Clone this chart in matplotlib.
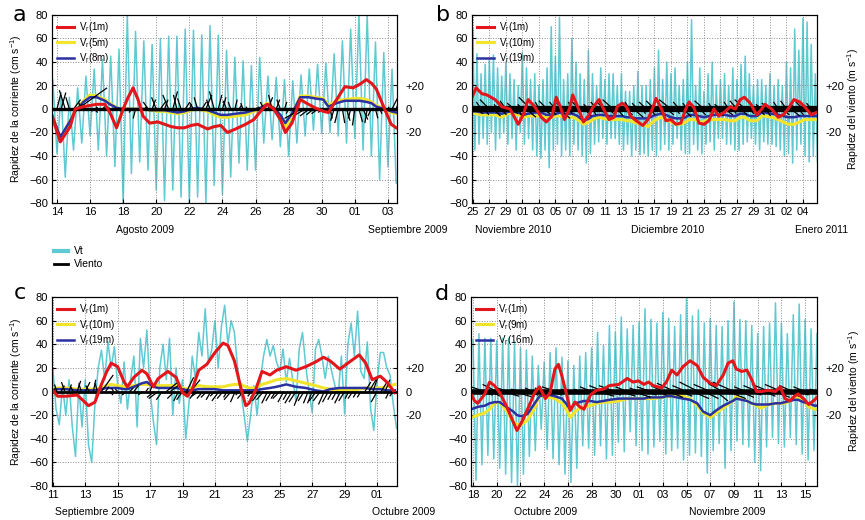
import matplotlib
matplotlib.use('Agg')
import matplotlib.pyplot as plt
import numpy as np
from datetime import datetime, timedelta
from matplotlib.collections import LineCollection
from matplotlib.lines import Line2D

plt.rcParams['font.family'] = ['Liberation Sans', 'DejaVu Sans']
plt.rcParams['mathtext.fontset'] = 'custom'
plt.rcParams['mathtext.rm'] = 'Liberation Sans'

CYAN = '#5fcad2'
RED = '#e3161b'
YEL = '#f1e52c'
BLU = '#2a31a0'

# ---------------- panel a : Agosto - Septiembre 2009 (day of August) ----------------
a_t = [13.7, 14.2, 14.8, 15.1, 15.6, 16.0, 16.4, 16.9, 17.2, 17.6,
       18.0, 18.3, 18.6, 18.9, 19.2, 19.6, 20.1, 20.5, 20.9, 21.3,
       21.7, 22.1, 22.5, 23.1, 23.5, 23.9, 24.3, 24.8, 25.4, 25.9,
       26.3, 26.7, 27.1, 27.5, 27.8, 28.2, 28.7, 29.2, 29.6, 30.1,
       30.4, 30.9, 31.4, 31.9, 32.3, 32.7, 33.0, 33.3, 33.8, 34.2, 34.5]
a_red = [-6, -28, -15, 0, 2, 3, 4, 4, -3, -16,
         0, 10, 18, 8, -6, -12, -11, -13, -15, -16,
         -16, -14, -13, -17, -15, -14, -20, -17, -13, -9,
         -2, 4, 0, -9, -20, -12, 8, 4, 1, -2,
         -3, 8, 19, 18, 21, 25, 22, 17, 0, -13, -16]
a_yel = [-5, -25, -10, -2, 7, 12, 11, 8, 5, 1,
         0, 0, 0, 0, 0, -1, -2, -2, -3, -4,
         -3, -1, 0, -2, -5, -7, -7, -6, -5, -2,
         1, 5, 1, -7, -16, -5, 11, 11, 10, 9,
         3, 7, 8, 9, 9, 8, 6, 3, 0, -3, -4]
a_blu = [-5, -24, -10, -2, 6, 10, 10, 7, 4, 1,
         0, 0, 0, 0, 0, -1, -1, -1, -2, -3,
         -2, 0, 1, -1, -3, -5, -5, -4, -3, -1,
         1, 4, 1, -5, -12, -4, 10, 10, 9, 8,
         2, 5, 7, 7, 7, 6, 5, 2, 0, -2, -3]
a_peak = [25, 14, 10, 18, 28, 34, 42, 45, 51, 80,
          66, 58, 55, 60, 62, 62, 68, 67, 63, 71,
          63, 50, 44, 41, 37, 44, 28, 27, 25, 24,
          29, 34, 38, 39, 47, 58, 68, 80, 80, 57, 48, 34]
a_trough = [-38, -58, -35, -29, -23, -35, -40, -49, -80, -55,
            -45, -52, -69, -78, -69, -75, -80, -75, -80, -65,
            -73, -58, -46, -52, -52, -29, -26, -32, -40, -29,
            -23, -18, -21, -20, -23, -29, -25, -35, -40, -60, -49, -63]
# wind components every 6 h from 13.75
a_wu = [-6, 3, 4, -5, -3, 6, 25, -3,
        -4, 2, 3, -2, 2, -1, -2, 2, 2, 1, 1, -2, -2, 3, 3,
        -4, 3, -4, 5, 3, -5, 4, -3, -3, 4, 2, -3,
        -3, 4, 5, -3, -4, 3, 3, -3, -2, 2, 2, -2, -1,
        1, 2, -1, -3,
        4, -3, 3, -3, 2, -2, 2, -4,
        -14, -10, -8, -6, -5, -3, 3,
        2, -3, -3, 2, 3, -2, -2, 3, 4, -2, -3, 2,
        2, 2, 1, 5, 4]
a_wv = [20, 12, 14, 16, 10, 8, 18, 6,
        4, -2, -3, 2, 2, 1, 1, -1, -2, 2, 1, -3, -8, -4, 2,
        6, 8, 10, 7, 8, 12, 15, 12, 9, 6, 4, 5,
        10, 6, 12, 8, 15, 12, 10, 7, 6, 8, 3, 5, 2,
        -1, 1, 2, 6,
        10, 12, 8, 8, 6, -4, -6, -5,
        -8, -6, -6, -5, -4, -3, -2,
        -8, -10, -12, -12, -10, -8, -14, -11, -9, -12, -6, -8,
        -4, -2, 2, 10, 12]

# ---------------- panel b : Nov 2010 - Ene 2011 (day counted from 31 Oct) ----------------
b_t = [24.9, 25.4, 26.1, 26.7, 27.7, 28.5, 29.5, 30.5, 31.1, 31.7,
       32.5, 33.3, 33.9, 34.6, 35.1, 35.6, 36.1, 36.7, 37.1, 37.7,
       38.4, 39.1, 39.5, 40.3, 40.7, 41.5, 42.1, 42.5, 43.1, 43.6,
       44.1, 44.8, 45.6, 46.2, 46.8, 47.2, 47.8, 48.4, 49.0, 49.6,
       50.2, 50.8, 51.2, 51.8, 52.4, 53.0, 53.6, 54.2, 54.8, 55.6,
       56.2, 56.8, 57.4, 57.9, 58.6, 59.4, 60.0, 60.4, 61.2, 62.0,
       62.6, 63.2, 63.9, 64.6, 65.2, 66.0, 66.6]
b_red = [10, 18, 13, 12, 8, 2, 0, -13, -5, 8,
         2, -7, -11, -6, 10, 2, -9, 0, 12, 2,
         -11, -5, 1, 8, 2, -9, -7, 2, 5, 2,
         -6, -10, -14, -9, 1, 9, 1, -10, -9, -13,
         -12, 0, 6, 1, -12, -13, -10, 0, -6, -2,
         2, 0, 8, 10, 5, -5, 0, 4, 0, -7,
         -5, 0, 8, 6, 2, -5, -3]
b_yel = [-3, -4, -5, -5, -5, -7, -3, -5, -7, -6,
         -6, -6, -7, -7, -6, -6, -7, -7, -7, -9,
         -13, -11, -9, -7, -8, -9, -9, -9, -9, -10,
         -10, -12, -13, -15, -11, -9, -7, -9, -11, -13,
         -13, -11, -9, -9, -11, -11, -9, -9, -9, -9,
         -10, -10, -7, -7, -10, -10, -6, -6, -7, -9,
         -11, -13, -13, -11, -9, -9, -9]
b_blu = [-2, -2, -3, -3, -3, -4, -2, -3, -5, -4,
         -3, -3, -5, -5, -4, -3, -4, -4, -4, -6,
         -10, -8, -6, -5, -5, -6, -6, -6, -6, -7,
         -7, -8, -8, -8, -6, -5, -4, -5, -7, -8,
         -8, -7, -5, -5, -6, -7, -6, -5, -5, -5,
         -6, -6, -4, -4, -6, -6, -3, -3, -4, -5,
         -6, -7, -7, -6, -6, -6, -6]
b_peak = [68, 47, 30, 38, 42, 46, 35, 28, 40, 30,
          25, 20, 48, 35, 25, 30, 20, 25, 35, 70,
          45, 78, 25, 30, 60, 40, 30, 25, 50, 30,
          20, 35, 25, 30, 30, 20, 30, 15, 15, 20,
          32, 20, 20, 25, 35, 50, 25, 40, 30, 35,
          20, 25, 40, 76, 20, 35, 15, 30, 40, 20,
          25, 30, 20, 35, 25, 38, 45, 30, 20, 25,
          25, 20, 30, 20, 25, 20, 40, 35, 68, 50,
          77, 74, 55, 30]
b_trough = [-35, -30, -25, -30, -20, -35, -25, -20, -30, -25,
            -35, -20, -30, -25, -35, -40, -42, -35, -50, -35,
            -30, -40, -35, -40, -30, -35, -40, -46, -38, -30,
            -28, -25, -30, -25, -25, -30, -35, -30, -40, -35,
            -39, -38, -40, -35, -40, -35, -30, -35, -30, -25,
            -35, -38, -38, -30, -35, -38, -30, -28, -35, -25,
            -25, -30, -30, -35, -35, -30, -28, -25, -30, -35,
            -28, -30, -30, -32, -35, -40, -38, -46, -35, -30,
            -40, -45, -40, -45]
b_wu = [-6, 5, -4, 3, -8, 6, -3, 4, -5, 7, -6, 3, -4, 8, -10, 5, -3, 6, -7, 4,
        -5, 9, -6, 4, -3, 5, -8, 6, -4, 3, -5, 7, -6, 4, -9, 5, -3, 6, -4, 8,
        -5, 3, -6, 4, -7, 5, -3, 6, -10, 4, -5, 7, -4, 3, -6, 5, -8, 4, -3, 6,
        -5, 7, -4, 3, -6, 5, -9, 4, -3, 6, -5, 4, -7, 3, -4, 6, -5, 8, -3, 4,
        -6, 5, -4, 10]
b_wv = [5, -4, 6, -5, 8, -6, 4, -5, 7, -4, 5, -6, 4, -7, 10, -5, 6, -4, 7, -5,
        6, -8, 5, -4, 6, -5, 7, -6, 4, -5, 6, -7, 5, -4, 8, -6, 4, -5, 6, -7,
        5, -4, 6, -5, 7, -6, 4, -5, 8, -4, 6, -7, 5, -4, 6, -5, 7, -4, 5, -6,
        4, -5, 6, -4, 7, -5, 8, -4, 6, -5, 4, -6, 5, -4, 6, -5, 7, -6, 4, -5,
        6, -4, 5, -6]

# ---------------- panel c : Septiembre - Octubre 2009 (day of September) ----------------
c_t = [11.0, 11.3, 11.8, 12.5, 12.9, 13.2, 13.6, 14.0, 14.3, 14.6,
       15.0, 15.4, 15.6, 16.0, 16.5, 16.8, 17.2, 17.5, 18.1, 18.6,
       19.0, 19.3, 19.6, 20.0, 20.5, 21.0, 21.5, 21.8, 22.2, 22.6,
       22.9, 23.1, 23.5, 23.9, 24.4, 24.8, 25.4, 26.0, 26.6, 27.2,
       27.7, 28.1, 28.7, 29.2, 29.9, 30.3, 30.7, 31.2, 31.6, 32.1]
c_red = [1, -4, -4, -3, -8, -12, -9, 6, 16, 24,
         21, 8, 4, 12, 18, 15, 4, 11, 17, 12,
         -1, -4, 2, 18, 23, 33, 41, 39, 26, 3,
         -12, -10, 1, 17, 14, 18, 21, 18, 21, 25,
         29, 26, 19, 24, 31, 24, 10, 13, 8, -1]
c_yel = [2, 3, 3, 2, 2, 2, 2, 3, 5, 6,
         5, 4, 4, 5, 6, 6, 5, 5, 5, 5,
         3, 2, 3, 5, 4, 4, 4, 5, 6, 6,
         4, 3, 3, 6, 8, 10, 11, 9, 7, 5,
         3, 2, 1, 1, 2, 3, 3, 3, 4, 6]
c_blu = [1, 2, 2, 1, 1, 1, 1, 2, 3, 3,
         3, 2, 2, 4, 7, 8, 4, 3, 3, 3,
         2, 1, 1, 2, 2, 2, 1, 1, 1, 1,
         1, 1, 1, 2, 3, 4, 6, 4, 3, 1,
         0, 2, 3, 3, 3, 3, 2, 2, 1, 1]
c_vt = [20, -15, -28, 5, -20, 10, -30, -55, 5, -30, 10, -45, -60, -10, 20,
        35, 10, 42, 20, 38, 5, -10, 25, -15, 10, 30, -30, 45, 20, 52,
        0, -25, -45, 20, 40, 10, 45, -20, 20, -10, 10, -40, -10, 30, 10,
        50, 30, 70, 25, 35, 60, 20, 55, 73, 40, 60, 50, 20, 0, -20,
        -42, -20, 5, -20, 10,
        30, 44, 30, 39, 25, 17, 36, 8, 28, 10,
        -8, 36, 50, 22, 0, -18, 36, 44, 30, 11,
        30, 17, 5, -3, 30, -19, 40, 58, 30, 68,
        17, 11, 42, -14, -33, 8, 33, 33, 20, 14,
        -11, -31]
# wind components every 6 h from 11.0
c_wu = [2, -2, 3, -3, 2, -2, 3, -2, 4, -3, 2, -2,
        10, 3, 3, -2, -2, 2, -3, 3, 4, -2, -3, 2,
        2, -6, -8, -5, 10, 8, -6, -4, -5, 6, 8, -4,
        -6, -5, -5, -4, -4, -6, -5, -3, -6, -4, -3, -5, -4, -3, -4, -6, -6, -5, -5, -4,
        -6, -5, -4, -6, -6, -5, -5, -4, -4, -6, -6, -5, -5, -4, -4, -5, -5, -3, -4, -3,
        -3, 5, 6, 4, -5, 5, 4, -3, -3]
c_wv = [3, 6, 5, 8, 6, 4, 9, 7, 8, 5, 10, 7,
        14, 4, -3, 3, 2, -2, -3, 3, 5, -2, -3, 3,
        6, -5, -6, -7, 8, 6, -6, -8, -7, 12, 10, -6,
        -4, -6, -5, -7, -4, -8, -6, -5, -7, -9, -3, -6, -2, -4, -5, -8, -7, -10, -8, -6,
        -6, -9, -7, -10, -9, -12, -8, -10, -10, -8, -8, -11, -9, -7, -7, -10, -8, -6, -6, -5,
        -5, 8, 10, 12, -9, 8, 10, -6, -4]

# ---------------- panel d : Octubre - Noviembre 2009 (day of October) ----------------
d_t = [17.86, 18.14, 18.4, 19.0, 19.4, 19.8, 20.25, 20.8, 21.4, 21.7,
       22.1, 22.6, 23.2, 23.6, 24.1, 24.5, 24.9, 25.2, 25.5, 25.9,
       26.2, 26.6, 27.0, 27.35, 27.9, 28.4, 29.0, 29.5, 30.3, 31.0,
       31.5, 31.95, 32.4, 32.8, 33.2, 33.9, 34.3, 34.75, 35.2, 35.7,
       36.3, 36.9, 37.4, 38.0, 38.5, 39.1, 39.5, 39.9, 40.2, 40.65,
       41.1, 41.5, 41.9, 42.3, 42.9, 43.5, 43.9, 44.3, 44.7, 45.1,
       45.4, 45.85, 46.3, 46.8, 47.0]
d_red = [-3, -8, -10, -2, 8, 5, -1, -12, -26, -33,
         -26, -15, -1, 4, -6, -1, 19, 23, 13, -3,
         -16, -9, -13, -15, -3, 1, 2, 5, 6, 11,
         8, 9, 6, 8, 5, 3, 8, 18, 14, 21,
         26, 22, 12, 7, 5, 14, 24, 26, 19, 17,
         18, 10, 0, 0, 1, 0, 4, -6, -8, -4,
         -2, -6, -11, -7, -5]
d_yel = [-22, -21, -20, -18, -15, -10, -9, -16, -26, -28,
         -28, -24, -14, -3, -5, -5, -6, -8, -10, -16,
         -22, -17, -14, -13, -12, -10, -9, -9, -8, -6,
         -6, -6, -6, -6, -6, -5, -4, -4, -3, -4,
         -6, -12, -18, -22, -18, -14, -11, -8, -4, -6,
         -8, -10, -12, -14, -11, -10, -10, -10, -8, -6,
         -5, -8, -13, -15, -15]
d_blu = [-15, -14, -13, -12, -10, -9, -9, -13, -17, -20,
         -21, -19, -10, -4, -3, -3, -4, -5, -6, -11,
         -15, -10, -9, -8, -8, -9, -8, -7, -6, -6,
         -6, -6, -6, -5, -5, -5, -4, -4, -5, -6,
         -7, -10, -17, -20, -16, -12, -10, -8, -6, -7,
         -8, -10, -11, -11, -11, -10, -10, -9, -8, -7,
         -7, -9, -10, -12, -12]
d_peak = [44, 49, 45, 45, 43, 45, 45, 42, 37, 35,
          30, 22, 25, 33, 37, 29, 26, 22, 30, 33,
          37, 50, 39, 56, 50, 63, 53, 56, 59,
          70, 61, 58, 67, 62, 55, 65, 79, 64, 69,
          58, 62, 56, 55, 60, 76, 61, 60, 56, 49,
          55, 58, 75, 58, 49, 65, 74, 61, 53, 49]
d_trough = [-75, -62, -54, -57, -65, -70, -77, -80, -70, -55,
            -50, -32, -49, -57, -62, -70, -77, -65, -46, -48,
            -54, -46, -57, -54, -43, -51, -34, -46, -50,
            -53, -47, -42, -53, -50, -48, -58, -54, -52, -55,
            -69, -50, -44, -65, -50, -42, -45, -47, -60, -67,
            -47, -39, -44, -47, -39, -45, -53, -58, -50]
d_wu = [-10, 12, -15, 8, -12, 14, -10, 16, -8, 10, -6, 5, -8, 10, -12, 8, -6, 5, -5, 6,
        -10, 14, -12, 10, -14, 12, -10, 15, -8, 10, -12, 8, -10, 12, -15, 10, -12, 14, -16, 12,
        -14, 10, -12, 15, -18, 12, -10, 8, -12, 10, -15, 12, -14, 10, -12, 8, -10, 12, -6]
d_wv = [4, -3, 5, -4, 6, -4, 3, -5, 2, -3, 3, -2, 3, -3, 4, -2, 2, -2, 2, -2,
        4, -4, 5, -3, 5, -4, 4, -5, 3, -3, 4, -3, 5, -5, 7, -4, 5, -6, 8, -6,
        6, -8, 7, -6, 8, -5, 4, -3, 5, -4, 6, -5, 6, -4, 5, -3, 4, -4, 2]

FW, FH = 865, 520
fig = plt.figure(figsize=(FW / 100, FH / 100), dpi=100)


def tidal(t_peak0, peaks, t_trough0, troughs):
    tp = t_peak0 + 0.5 * np.arange(len(peaks))
    tt = t_trough0 + 0.5 * np.arange(len(troughs))
    t = np.concatenate([tp, tt])
    v = np.concatenate([peaks, troughs])
    order = np.argsort(t)
    return t[order], v[order]


def panel(rect, letter, base, xlim, tick0, tick1, months, vt_t, vt,
          t, red, yel, blu, depths, w_t0, w_dt, wu, wv, side, band):
    ax = fig.add_axes(rect)
    ax.plot(vt_t, vt, color=CYAN, lw=1.1, zorder=1)
    ly, = ax.plot(t, yel, color=YEL, lw=2.2, zorder=3)
    lb, = ax.plot(t, blu, color=BLU, lw=1.8, zorder=3)

    ax.set_xlim(*xlim)
    ax.set_ylim(-80, 80)

    # wind sticks: horizontal extent scaled so sticks keep their true angle on screen
    w_px, h_px = rect[2] * FW, rect[3] * FH
    k = (h_px / 160.0) / (w_px / (xlim[1] - xlim[0]))
    wt = w_t0 + w_dt * np.arange(len(wu))
    segs = [[(ti, 0), (ti + ui * k, vi)] for ti, ui, vi in zip(wt, wu, wv)]
    ax.add_collection(LineCollection(segs, colors='k', linewidths=0.9, zorder=4))
    ax.axhline(0, color='k', lw=band, zorder=4)

    lr, = ax.plot(t, red, color=RED, lw=2.2, zorder=5)

    xt = np.arange(tick0, tick1 + 1, 2)
    ax.set_xticks(xt)
    ax.set_xticklabels([(base + timedelta(days=int(d))).strftime('%d') for d in xt])
    ax.set_yticks(np.arange(-80, 81, 20))
    ax.grid(True, ls=':', color='#8c8c8c', lw=0.7)
    ax.tick_params(direction='in', labelsize=8, length=3, pad=3)

    axr = ax.twinx()
    axr.set_ylim(-80, 80)
    axr.set_yticks([-20, 0, 20])
    axr.set_yticklabels(['-20', '0', '+20'])
    axr.tick_params(direction='in', labelsize=8, length=3, pad=6)

    labels = ['V$_\\mathregular{r}$(%s)' % dd for dd in depths]
    ax.legend([lr, ly, lb], labels, loc='upper left', frameon=False, fontsize=7,
              handlelength=1.7, labelspacing=0.15, borderaxespad=0.15, handletextpad=0.5)

    if side == 'left':
        ax.set_ylabel('Rapidez de la corriente (cm s$^{\\mathregular{-1}}$)', fontsize=7.5)
        ax.yaxis.set_label_coords(-0.08, 0.5)
    else:
        axr.set_ylabel('Rapidez del viento (m s$^{\\mathregular{-1}}$)', fontsize=7.5,
                       rotation=90)
        axr.yaxis.set_label_coords(1.083, 0.5)

    for xf, yf, txt, ha in months:
        ax.text(xf, yf, txt, transform=ax.transAxes, ha=ha, va='center',
                fontsize=7.5, clip_on=False)

    fig.text(letter[1] / FW, 1 - letter[2] / FH, letter[0], fontsize=16,
             ha='center', va='center', family='DejaVu Sans')
    return ax


top = [52 / FW, 1 - 203 / FH, 345 / FW, 188 / FH]
bot_y, bot_h = 1 - 486 / FH, 189 / FH

ta, va_ = tidal(13.75, a_peak, 14.0, a_trough)
panel(top, ('a', 19, 15), datetime(2009, 7, 31), (13.7, 34.55), 14, 34,
      [(0.27, -0.145, 'Agosto 2009', 'center'), (0.916, -0.145, 'Septiembre 2009', 'left')],
      ta, va_, a_t, a_red, a_yel, a_blu, ['1m', '5m', '8m'],
      13.75, 0.25, a_wu, a_wv, 'left', 2.4)

tb, vb = tidal(25.0, b_peak, 25.25, b_trough)
panel([472 / FW, top[1], 345 / FW, top[3]], ('b', 443, 15), datetime(2010, 10, 31),
      (24.9, 66.7), 25, 65,
      [(0.009, -0.145, 'Noviembre 2010', 'left'), (0.568, -0.145, 'Diciembre 2010', 'center'),
       (1.014, -0.145, 'Enero 2011', 'center')],
      tb, vb, b_t, b_red, b_yel, b_blu, ['1m', '10m', '19m'],
      25.0, 0.5, b_wu, b_wv, 'right', 4.5)

tc = 11.0 + 0.2 * np.arange(len(c_vt))
panel([52 / FW, bot_y, 345 / FW, bot_h], ('c', 20, 293), datetime(2009, 8, 31),
      (10.95, 32.23), 11, 31,
      [(0.009, -0.138, 'Septiembre 2009', 'left'), (0.928, -0.138, 'Octubre 2009', 'left')],
      tc, c_vt, c_t, c_red, c_yel, c_blu, ['1m', '10m', '19m'],
      11.0, 0.25, c_wu, c_wv, 'left', 2.0)

td, vd = tidal(18.0, d_peak, 18.25, d_trough)
panel([471 / FW, bot_y, 346 / FW, bot_h], ('d', 442, 294), datetime(2009, 9, 30),
      (17.83, 47.0), 18, 46,
      [(0.217, -0.138, 'Octubre 2009', 'center'), (0.74, -0.138, 'Noviembre 2009', 'center')],
      td, vd, d_t, d_red, d_yel, d_blu, ['1m', '9m', '16m'],
      18.0, 0.5, d_wu, d_wv, 'right', 4.0)

fig.legend([Line2D([], [], color=CYAN, lw=3), Line2D([], [], color='k', lw=2)],
           ['Vt', 'Viento'], loc='upper left', bbox_to_anchor=(50 / FW, 1 - 242 / FH),
           frameon=False, fontsize=7.5, handlelength=1.3, labelspacing=0.3,
           handletextpad=0.6, borderaxespad=0)

fig.savefig('out.png', dpi=100)
